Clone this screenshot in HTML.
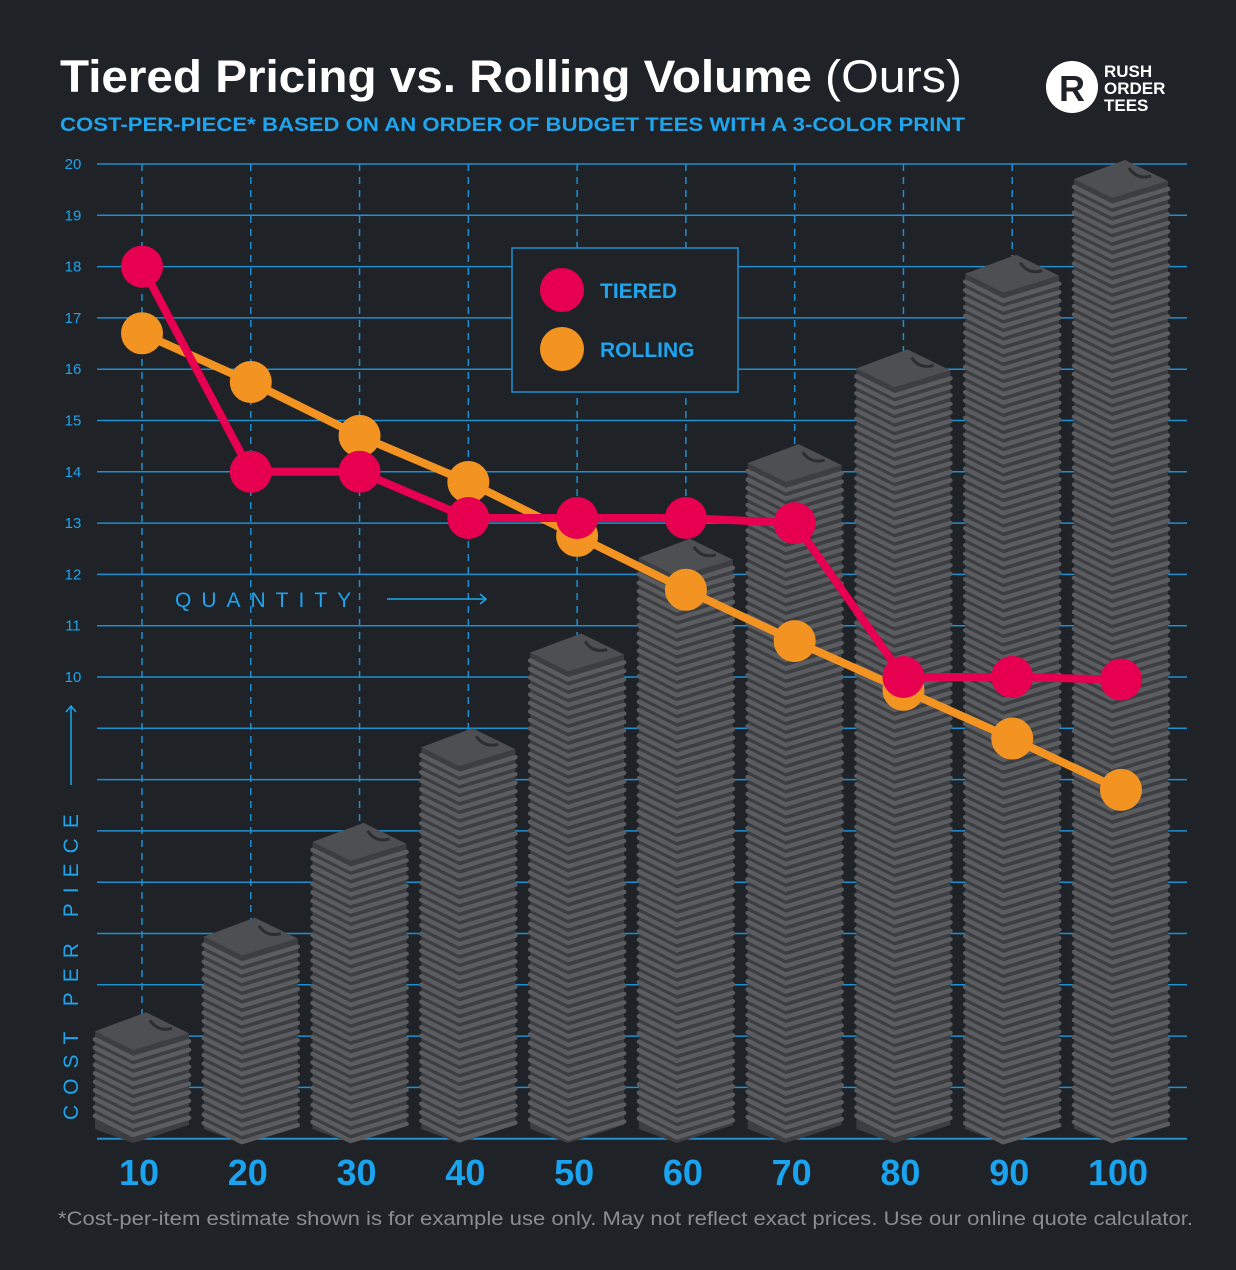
<!DOCTYPE html>
<html><head><meta charset="utf-8"><style>
html,body{margin:0;padding:0;background:#1f2227;}
svg{display:block;font-family:"Liberation Sans",sans-serif;}
</style></head><body>
<svg id="chart" width="1236" height="1270" viewBox="0 0 1236 1270" xmlns="http://www.w3.org/2000/svg">
<rect width="1236" height="1270" fill="#1f2227"/>
<text x="60" y="92" fill="#ffffff" font-size="45" font-weight="bold" textLength="752" lengthAdjust="spacingAndGlyphs">Tiered Pricing vs. Rolling Volume</text>
<text x="825" y="92" fill="#ffffff" font-size="45" textLength="137" lengthAdjust="spacingAndGlyphs">(Ours)</text>
<text x="60" y="131" fill="#1ea5ee" font-size="19.5" font-weight="bold" textLength="905" lengthAdjust="spacingAndGlyphs">COST-PER-PIECE* BASED ON AN ORDER OF BUDGET TEES WITH A 3-COLOR PRINT</text>
<g>
<circle cx="1072" cy="87" r="26" fill="#ffffff"/>
<text x="1072" y="101" fill="#1f2227" font-size="36" font-weight="bold" text-anchor="middle">R</text>
<text x="1104" y="77" fill="#fff" font-size="17" font-weight="bold">RUSH</text>
<text x="1104" y="94" fill="#fff" font-size="17" font-weight="bold">ORDER</text>
<text x="1104" y="111" fill="#fff" font-size="17" font-weight="bold">TEES</text>
</g>
<g id="grid"></g>
<g id="bars"></g>
<g id="lines"></g>
<g>
<rect x="512" y="248" width="226" height="144" fill="#1f2227" stroke="#1e8fd0" stroke-width="1.5"/>
<circle cx="562" cy="290" r="22" fill="#e6004f"/>
<text x="600" y="298" fill="#1ea5ee" font-size="21" font-weight="bold">TIERED</text>
<circle cx="562" cy="349" r="22" fill="#f39422"/>
<text x="600" y="357" fill="#1ea5ee" font-size="21" font-weight="bold">ROLLING</text>
</g>
<g>
<text x="175" y="607" fill="#1ea5ee" font-size="21" letter-spacing="10">QUANTITY</text>
<line x1="387" y1="599" x2="486" y2="599" stroke="#1ea5ee" stroke-width="1.5"/>
<polyline points="480,594 486,599 480,604" fill="none" stroke="#1ea5ee" stroke-width="1.5"/>
</g>
<g>
<text transform="translate(78,1120) rotate(-90)" fill="#1ea5ee" font-size="21" letter-spacing="10">COST PER PIECE</text>
<line x1="71" y1="785" x2="71" y2="706" stroke="#1ea5ee" stroke-width="1.5"/>
<polyline points="66,712 71,706 76,712" fill="none" stroke="#1ea5ee" stroke-width="1.5"/>
</g>
<text x="58" y="1225" fill="#8a8d92" font-size="19" textLength="1135" lengthAdjust="spacingAndGlyphs">*Cost-per-item estimate shown is for example use only. May not reflect exact prices. Use our online quote calculator.</text>
</svg>
<script>
const quantities = [10,20,30,40,50,60,70,80,90,100];
const tiered = [18,14,14,13.1,13.1,13.1,13,10,10,9.95];
const rolling = [16.7,15.75,14.7,13.8,12.75,11.7,10.7,9.75,8.8,7.8];
const yTicks = [10,11,12,13,14,15,16,17,18,19,20];
const gridValues = [1,2,3,4,5,6,7,8,9,10,11,12,13,14,15,16,17,18,19,20];

const NS = "http://www.w3.org/2000/svg";
function xPos(q){ return 142 + (q-10)*(1121-142)/90; }
function yPos(v){ return 677 - (v-10)*51.3; }
function stackTop(q){ return 1107 - q*9.47; }
function mk(tag, attrs, parent){ const e=document.createElementNS(NS,tag); for(const k in attrs) e.setAttribute(k,attrs[k]); parent.appendChild(e); return e; }

const grid=document.getElementById('grid');
gridValues.forEach(v=>{
  const l=mk('line',{x1:97,x2:1187,y1:yPos(v),y2:yPos(v),stroke:'#1e8fd0','stroke-width':v===1?2:1.5},grid);
  
  
});
yTicks.forEach(v=>{
  const t=mk('text',{x:73,y:yPos(v)+5,fill:'#1ea5ee','font-size':15,'text-anchor':'middle'},grid);
  t.textContent=v;
  
  
});
quantities.forEach(q=>{
  const l=mk('line',{x1:xPos(q),x2:xPos(q),y1:164,y2:1136,stroke:'#1e8fd0','stroke-width':1.5,'stroke-dasharray':'7,6'},grid);
  
  
  const t=mk('text',{x:xPos(q)-3,y:1185,fill:'#1aa3ef','font-size':36,'font-weight':'bold','text-anchor':'middle'},grid);
  t.textContent=q;
  
  
});

const bars=document.getElementById('bars');
quantities.forEach(q=>{
  const c=xPos(q), L=c-47, R=c+47, T=stackTop(q), ax=c-9;
  const g=mk('g',{},bars);
  
  
  mk('polygon',{points:`${L},${T+19} ${ax},${T+38} ${R},${T+21} ${R},1125 ${ax},1143 ${L},1129`,fill:'#3c3e42'},g);
  for(let y=T+38+8; y<1143; y+=8.5){
    mk('polyline',{points:`${L},${y-19} ${ax},${y} ${R},${y-17}`,fill:'none',stroke:'#5a5c60','stroke-width':4.5,'stroke-linecap':'round'},g);
  }
  mk('polygon',{points:`${L},${T+19} ${c+4},${T} ${R},${T+21} ${ax},${T+38}`,fill:'#4d4f53'},g);
  mk('path',{d:`M${c+8},${T+8} q8,12 22,8`,fill:'none',stroke:'#2c2e31','stroke-width':3},g);
});

const lines=document.getElementById('lines');
function series(vals,color,name){
  const pts=quantities.map((q,i)=>xPos(q)+','+yPos(vals[i])).join(' ');
  const pl=mk('polyline',{points:pts,fill:'none',stroke:color,'stroke-width':8,'stroke-linejoin':'round'},lines);
  
  
  vals.forEach((v,i)=>{
    const c=mk('circle',{cx:xPos(quantities[i]),cy:yPos(v),r:21,fill:color},lines);
    
    
  });
}
series(rolling,'#f39422','rolling');
series(tiered,'#e6004f','tiered');
</script>
</body></html>
